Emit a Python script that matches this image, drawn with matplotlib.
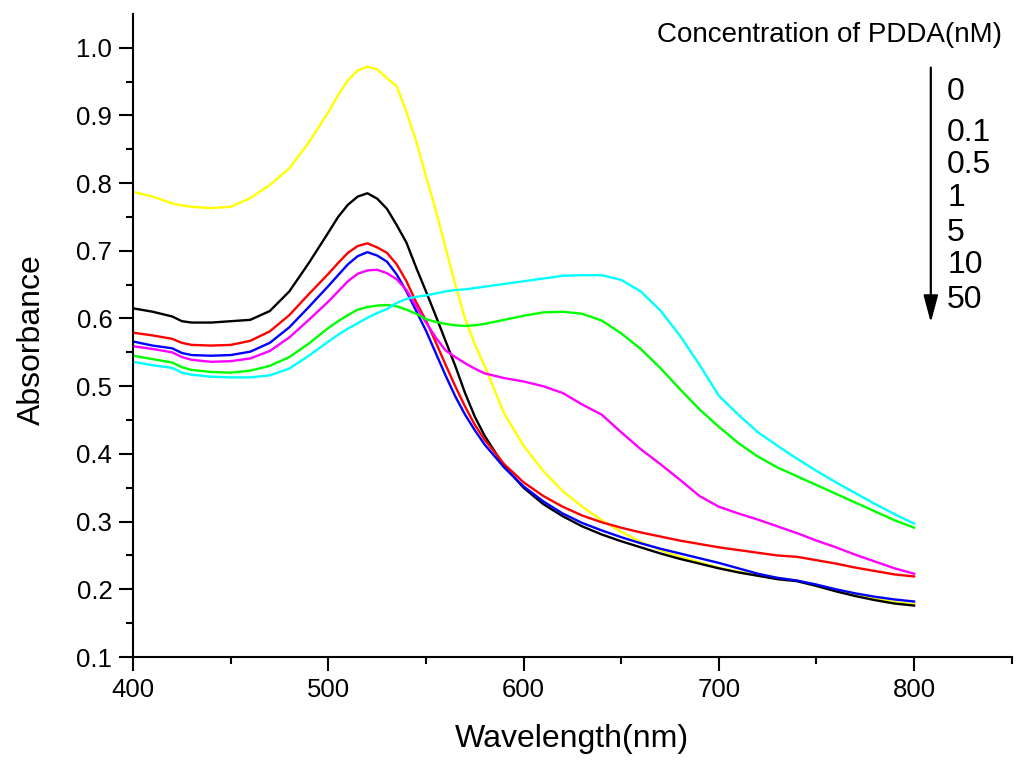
import matplotlib
matplotlib.use("Agg")
import matplotlib.pyplot as plt
from matplotlib.ticker import MultipleLocator, FixedLocator

plt.rcParams['font.family'] = ['Liberation Sans', 'DejaVu Sans']

# wavelength grid (nm)
wl = [400, 410, 420, 425, 430, 440, 450, 460, 470, 480, 490, 500, 505, 510, 515,
      520, 525, 530, 535, 540, 545, 550, 555, 560, 565, 570, 575, 580, 590, 600,
      610, 620, 630, 640, 650, 660, 670, 680, 690, 700, 710, 720, 730, 740, 750,
      760, 770, 780, 790, 800]

yellow = [0.787, 0.780, 0.770, 0.767, 0.765, 0.763, 0.765, 0.778, 0.797, 0.822,
          0.860, 0.905, 0.930, 0.952, 0.966, 0.972, 0.968, 0.955, 0.943, 0.905,
          0.862, 0.810, 0.760, 0.705, 0.650, 0.600, 0.562, 0.530, 0.460, 0.412,
          0.375, 0.345, 0.322, 0.302, 0.285, 0.270, 0.258, 0.248, 0.240, 0.232,
          0.226, 0.221, 0.217, 0.213, 0.205, 0.198, 0.192, 0.186, 0.181, 0.178]

black = [0.615, 0.610, 0.603, 0.596, 0.594, 0.594, 0.596, 0.598, 0.611, 0.640,
         0.682, 0.727, 0.750, 0.768, 0.780, 0.785, 0.777, 0.762, 0.738, 0.712,
         0.675, 0.640, 0.604, 0.567, 0.530, 0.490, 0.455, 0.427, 0.382, 0.350,
         0.326, 0.308, 0.293, 0.281, 0.271, 0.262, 0.253, 0.245, 0.238, 0.231,
         0.225, 0.220, 0.215, 0.212, 0.205, 0.197, 0.190, 0.184, 0.179, 0.176]

red = [0.579, 0.575, 0.570, 0.564, 0.561, 0.560, 0.561, 0.567, 0.581, 0.605,
       0.636, 0.666, 0.682, 0.697, 0.707, 0.711, 0.705, 0.697, 0.680, 0.655,
       0.624, 0.597, 0.565, 0.532, 0.500, 0.470, 0.443, 0.421, 0.385, 0.358,
       0.338, 0.322, 0.309, 0.299, 0.291, 0.284, 0.278, 0.272, 0.267, 0.262,
       0.258, 0.254, 0.250, 0.248, 0.243, 0.238, 0.232, 0.227, 0.222, 0.219]

blue = [0.566, 0.560, 0.556, 0.549, 0.546, 0.545, 0.546, 0.551, 0.564, 0.587,
        0.617, 0.648, 0.664, 0.680, 0.692, 0.698, 0.693, 0.684, 0.665, 0.640,
        0.611, 0.582, 0.549, 0.516, 0.485, 0.458, 0.435, 0.414, 0.380, 0.352,
        0.330, 0.312, 0.298, 0.287, 0.277, 0.268, 0.260, 0.253, 0.246, 0.239,
        0.231, 0.223, 0.217, 0.213, 0.207, 0.200, 0.194, 0.189, 0.185, 0.182]

magenta = [0.559, 0.555, 0.550, 0.543, 0.539, 0.536, 0.537, 0.541, 0.552, 0.572,
           0.598, 0.625, 0.640, 0.655, 0.666, 0.671, 0.672, 0.667, 0.658, 0.642,
           0.618, 0.594, 0.572, 0.553, 0.543, 0.534, 0.526, 0.519, 0.512, 0.507,
           0.500, 0.490, 0.473, 0.458, 0.432, 0.407, 0.385, 0.362, 0.338, 0.322,
           0.312, 0.303, 0.293, 0.283, 0.272, 0.262, 0.251, 0.241, 0.231, 0.223]

green = [0.545, 0.540, 0.535, 0.528, 0.524, 0.521, 0.520, 0.523, 0.530, 0.543,
         0.563, 0.586, 0.596, 0.605, 0.613, 0.617, 0.619, 0.620, 0.618, 0.613,
         0.607, 0.599, 0.595, 0.592, 0.590, 0.589, 0.590, 0.592, 0.598, 0.604,
         0.609, 0.610, 0.607, 0.597, 0.578, 0.555, 0.527, 0.496, 0.466, 0.440,
         0.416, 0.396, 0.380, 0.367, 0.354, 0.341, 0.328, 0.315, 0.302, 0.291]

cyan = [0.536, 0.531, 0.527, 0.520, 0.517, 0.514, 0.513, 0.513, 0.516, 0.526,
        0.545, 0.566, 0.576, 0.585, 0.593, 0.601, 0.608, 0.614, 0.623, 0.629,
        0.632, 0.634, 0.637, 0.640, 0.642, 0.643, 0.645, 0.647, 0.651, 0.655,
        0.659, 0.663, 0.664, 0.664, 0.657, 0.640, 0.612, 0.575, 0.532, 0.486,
        0.458, 0.432, 0.412, 0.393, 0.375, 0.358, 0.342, 0.326, 0.311, 0.297]

series = [(yellow, '#FFFF00'), (black, '#000000'), (red, '#FF0000'),
          (blue, '#0000FF'), (magenta, '#FF00FF'), (green, '#00FF00'),
          (cyan, '#00FFFF')]

conc_labels = ['0', '0.1', '0.5', '1', '5', '10', '50']
label_y = [0.880, 0.827, 0.785, 0.742, 0.697, 0.655, 0.609]

fig = plt.figure(figsize=(10.24, 7.68), dpi=100)
ax = fig.add_axes([0.130, 0.1445, 0.858, 0.8375])

for vals, col in series:
    ax.plot(wl, vals, color=col, lw=1.7, solid_joinstyle='round')

ax.set_xlim(400, 850)
ax.set_ylim(0.1, 1.05)
ax.xaxis.set_major_locator(MultipleLocator(100))
ax.xaxis.set_minor_locator(MultipleLocator(50))
ax.yaxis.set_major_locator(MultipleLocator(0.1))
ax.yaxis.set_minor_locator(FixedLocator([0.15, 0.25, 0.35, 0.45, 0.55,
                                         0.65, 0.75, 0.85, 0.95]))
ax.yaxis.set_major_formatter(plt.FormatStrFormatter('%.1f'))

for s in ['top', 'right']:
    ax.spines[s].set_visible(False)
for s in ['left', 'bottom']:
    ax.spines[s].set_linewidth(1.5)

ax.tick_params(which='major', direction='out', length=10, width=1.5,
               labelsize=18.5, pad=5)
ax.tick_params(which='minor', direction='out', length=5, width=1.5)

ax.set_xlabel('Wavelength(nm)', fontsize=23, labelpad=16)
ax.set_ylabel('Absorbance', fontsize=23)
ax.yaxis.set_label_coords(-0.098, 0.493)

fig.text(0.979, 0.954, 'Concentration of PDDA(nM)', fontsize=20,
         ha='right', va='center')

ax.annotate('', xy=(0.909, 0.580), xytext=(0.909, 0.912),
            xycoords='figure fraction', textcoords='figure fraction',
            arrowprops=dict(arrowstyle='-|>,head_length=0.75,head_width=0.2',
                            color='black', lw=1.6,
                            mutation_scale=22, shrinkA=0, shrinkB=0))

for lab, yy in zip(conc_labels, label_y):
    fig.text(0.925, yy, lab, fontsize=23, ha='left', va='center')

fig.savefig('out.png', dpi=100)
